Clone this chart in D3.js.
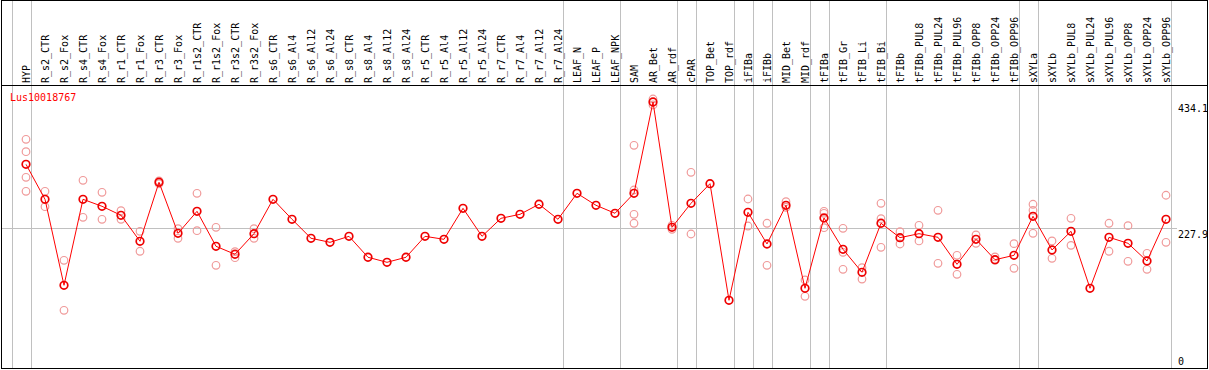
<!DOCTYPE html>
<html>
<head>
<meta charset="utf-8">
<script src="https://cdn.jsdelivr.net/npm/d3@7"></script>
<style>
	html, body { margin: 0; padding: 0; background: #fff; }
	svg { display: block; }
	text { font-family: "DejaVu Sans Mono", monospace; font-size: 10px; }
</style>
</head>
<body>
<div id="chart"></div>
<script>
var geneName = "Lus10018767";

var categories = ["HYP", "R_s2_CTR", "R_s2_Fox", "R_s4_CTR", "R_s4_Fox", "R_r1_CTR", "R_r1_Fox",
	"R_r3_CTR", "R_r3_Fox", "R_r1s2_CTR", "R_r1s2_Fox", "R_r3s2_CTR", "R_r3s2_Fox", "R_s6_CTR",
	"R_s6_Al4", "R_s6_Al12", "R_s6_Al24", "R_s8_CTR", "R_s8_Al4", "R_s8_Al12", "R_s8_Al24",
	"R_r5_CTR", "R_r5_Al4", "R_r5_Al12", "R_r5_Al24", "R_r7_CTR", "R_r7_Al4", "R_r7_Al12", "R_r7_Al24",
	"LEAF_N", "LEAF_P", "LEAF_NPK", "SAM", "AR_Bet", "AR_rdf", "cPAR", "TOP_Bet", "TOP_rdf",
	"iFIBa", "iFIBb", "MID_Bet", "MID_rdf", "tFIBa", "tFIB_Gr", "tFIB_Li", "tFIB_Bi", "tFIBb",
	"tFIBb_PUL8", "tFIBb_PUL24", "tFIBb_PUL96", "tFIBb_OPP8", "tFIBb_OPP24", "tFIBb_OPP96",
	"sXYLa", "sXYLb", "sXYLb_PUL8", "sXYLb_PUL24", "sXYLb_PUL96", "sXYLb_OPP8", "sXYLb_OPP24", "sXYLb_OPP96"];

var means = [332.4, 275.3, 135.0, 275.3, 263.9, 249.2, 206.8, 303.1, 219.8, 255.7, 198.6, 185.6, 219.2, 275.3,
	242.7, 211.7, 205.1, 214.9, 180.7, 172.5, 180.7, 214.9, 210.0, 260.6, 214.9, 244.3, 250.8, 267.2, 242.7,
	285.1, 265.5, 252.5, 285.1, 434.1, 229.6, 268.8, 300.8, 110.5, 254.1, 202.4, 265.5, 130.1, 244.8, 193.7,
	156.2, 236.2, 212.7, 219.2, 213.3, 169.2, 210.0, 176.7, 183.9, 247.6, 192.6, 223.1, 130.1, 213.3, 203.5,
	174.6, 242.7];

var replicates = [
	[373.2, 353.0, 311.2, 288.4], [288.4, 263.2], [175.8, 94.2], [306.3, 245.9], [286.7, 242.7],
	[256.7, 242.7], [223.1, 190.5], [305.5, 300.7], [227.3, 211.7], [285.1, 224.1], [229.6, 167.6],
	[189.8, 180.0], [227.3, 211.7], [], [], [], [], [], [], [], [], [], [], [], [], [], [], [], [],
	[], [], [], [363.4, 290.5, 250.8, 236.2], [439.0, 429.2], [232.9, 226.4], [319.4, 218.7], [], [],
	[275.8, 231.7], [236.2, 167.6], [271.4, 262.3], [143.6, 117.0], [255.7, 252.5, 229.0],
	[228.0, 188.8, 161.1], [163.7, 145.2], [268.8, 243.7, 197.0], [222.4, 202.4], [232.9, 207.3],
	[257.4, 170.9], [183.9, 152.9], [217.1, 203.5], [181.2, 175.8], [202.9, 162.7],
	[267.2, 257.4, 219.8], [207.3, 179.0], [244.3, 200.2], [], [236.2, 190.5], [232.2, 174.1],
	[187.2, 161.1], [281.9, 205.1]];

// group boundaries: a separator is drawn right after these columns (-1 = before the first)
var groupEnds = [-1, 0, 28, 31, 34, 35, 37, 38, 39, 41, 42, 45, 52, 53, 60];

var tickValues = [434.1, 227.9, 0];

var width = 1209,
		height = 370,
		headerBottom = 85,
		plotBottom = 368,
		step = 19,
		firstX = 26;

var xScale = d3.scaleLinear()
		.domain([0, categories.length - 1])
		.range([firstX, firstX + step * (categories.length - 1)]);

var yScale = d3.scaleLinear()
		.domain([0, d3.max(means)])
		.range([plotBottom, 102]);

var svg = d3.select("#chart").append("svg")
		.attr("width", width)
		.attr("height", height);

// separators
svg.append("g").attr("class", "separators")
	.selectAll("line")
	.data(groupEnds)
	.enter().append("line")
		.attr("x1", function(d) { return Math.round(xScale(d) + 4.7) + 0.5; })
		.attr("x2", function(d) { return Math.round(xScale(d) + 4.7) + 0.5; })
		.attr("y1", 0)
		.attr("y2", plotBottom)
		.style("stroke", "#c0c0c0")
		.style("stroke-width", 1);

// middle reference line
svg.append("line")
		.attr("x1", 1)
		.attr("x2", 1177)
		.attr("y1", Math.round(yScale(tickValues[1])) + 0.5)
		.attr("y2", Math.round(yScale(tickValues[1])) + 0.5)
		.style("stroke", "#c0c0c0");

// frame
svg.append("rect")
		.attr("x", 1.5)
		.attr("y", 0.5)
		.attr("width", 1206)
		.attr("height", plotBottom)
		.style("fill", "none")
		.style("stroke", "#000");

svg.append("line")
		.attr("x1", 1)
		.attr("x2", 1207)
		.attr("y1", headerBottom + 0.5)
		.attr("y2", headerBottom + 0.5)
		.style("stroke", "#000");

// header labels
svg.append("g").attr("class", "labels")
	.selectAll("text")
	.data(categories)
	.enter().append("text")
		.attr("transform", function(d, i) { return "translate(" + (xScale(i) + 3.5) + "," + (headerBottom - 2) + ") rotate(-90)"; })
		.style("fill", "#000")
		.text(function(d) { return d; });

// tick labels on the right
svg.append("g").attr("class", "ticks")
	.selectAll("text")
	.data(tickValues)
	.enter().append("text")
		.attr("x", 1178)
		.attr("y", function(d) { return yScale(d); })
		.attr("dy", function(d) { return d === 0 ? "-0.3em" : "0.95em"; })
		.style("fill", "#000")
		.text(function(d) { return d === 0 ? "0" : d.toFixed(1); });

// replicate points
var repData = [];
replicates.forEach(function(r, i) {
	r.forEach(function(v) { repData.push({i: i, value: v}); });
});

svg.append("g").attr("class", "replicates")
	.selectAll("circle")
	.data(repData)
	.enter().append("circle")
		.attr("cx", function(d) { return xScale(d.i); })
		.attr("cy", function(d) { return yScale(d.value); })
		.attr("r", 3.8)
		.style("fill", "none")
		.style("stroke", "#f09a9a")
		.style("stroke-width", 1.2);

// mean line
var line = d3.line()
		.x(function(d, i) { return xScale(i); })
		.y(function(d) { return yScale(d); });

svg.append("path")
		.datum(means)
		.attr("d", line)
		.style("fill", "none")
		.style("stroke", "#ff0000")
		.style("stroke-width", 1);

svg.append("g").attr("class", "means")
	.selectAll("circle")
	.data(means)
	.enter().append("circle")
		.attr("cx", function(d, i) { return xScale(i); })
		.attr("cy", function(d) { return yScale(d); })
		.attr("r", 3.8)
		.style("fill", "none")
		.style("stroke", "#ee0000")
		.style("stroke-width", 1.7);

// gene name
svg.append("text")
		.attr("x", 10)
		.attr("y", 101)
		.style("fill", "#ff0000")
		.text(geneName);
</script>
</body>
</html>
